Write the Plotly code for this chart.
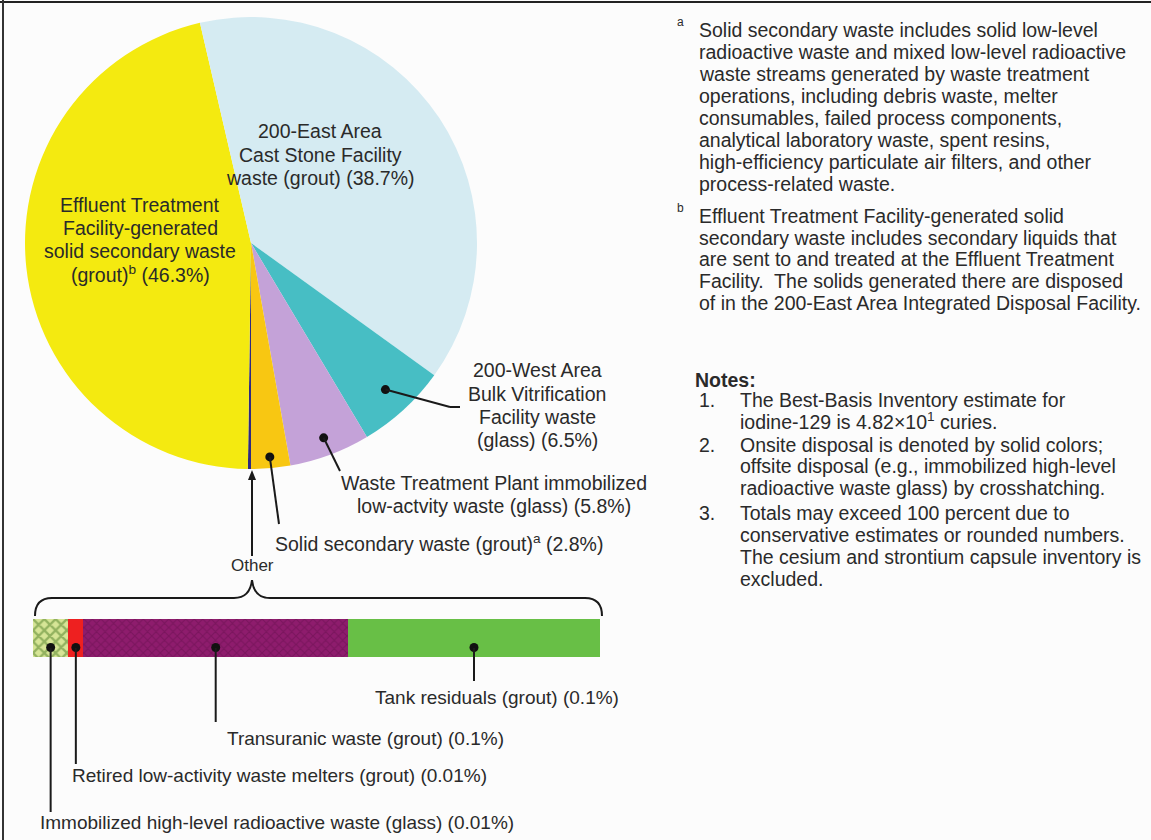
import math
import plotly.graph_objects as go

W, H = 1151, 840

# ---------------- data ----------------
pie_labels = ["Other",
              "Effluent Treatment Facility-generated solid secondary waste (grout)",
              "200-East Area Cast Stone Facility waste (grout)",
              "200-West Area Bulk Vitrification Facility waste (glass)",
              "Waste Treatment Plant immobilized low-activity waste (glass)",
              "Solid secondary waste (grout)"]
pie_values = [0.22, 46.3, 38.7, 6.5, 5.8, 2.8]
pie_colors = ["#2E2A80", "#F4EA10", "#D5EBF2", "#47BEC4", "#C4A2D8", "#F8C712"]

other_labels = ["Immobilized high-level radioactive waste (glass) (0.01%)",
                "Retired low-activity waste melters (grout) (0.01%)",
                "Transuranic waste (grout) (0.1%)",
                "Tank residuals (grout) (0.1%)"]
other_values = [0.014, 0.006, 0.105, 0.1]   # bar widths

FONT = "Liberation Sans, Arial, sans-serif"
TXT = "#2A2A2A"


def px(x):
    return x / W


def py(y):
    return 1 - y / H


fig = go.Figure()

# ---------------- pie ----------------
PCX, PCY, PR = 251, 243, 226
fig.add_trace(go.Pie(
    labels=pie_labels, values=pie_values, sort=False, direction="clockwise",
    rotation=180, textinfo="none", hoverinfo="label+percent",
    marker=dict(colors=pie_colors, line=dict(width=0)),
    domain=dict(x=[px(PCX - PR), px(PCX + PR)], y=[py(PCY + PR), py(PCY - PR)]),
    showlegend=False))

# ---------------- "Other" bar ----------------
BX0, BX1, BY0, BY1 = 33, 600, 619, 657
bar_fill = [
    dict(color="#D6E596", pattern=dict(shape="x", fgcolor="#4E7E28", bgcolor="#D6E596", size=8, solidity=0.5)),
    dict(color="#EE2020"),
    dict(color="#8C1B6B", pattern=dict(shape="x", fgcolor="#66104E", bgcolor="#8E1C6D", size=6, solidity=0.35)),
    dict(color="#68BF46"),
]
for lab, val, mk in zip(other_labels, other_values, bar_fill):
    fig.add_trace(go.Bar(x=[val], y=[0], orientation="h", width=1, name=lab,
                         marker=dict(line=dict(width=0), **mk),
                         showlegend=False, xaxis="x", yaxis="y"))

tot = sum(other_values)
cum = 0
centers = []
for v in other_values:
    centers.append(cum + v / 2)
    cum += v
fig.add_trace(go.Scatter(x=centers, y=[-0.25] * 4, mode="markers",
                         marker=dict(color="#111111", size=9), showlegend=False,
                         hoverinfo="skip", xaxis="x", yaxis="y"))

shapes = []
annotations = []


def line(x0, y0, x1, y1, color="#1A1A1A", width=2):
    shapes.append(dict(type="line", xref="paper", yref="paper",
                       x0=px(x0), y0=py(y0), x1=px(x1), y1=py(y1),
                       line=dict(color=color, width=width), layer="above"))


def text(x, y, s, anchor="center", size=19.5, bold=False):
    if bold:
        s = "<b>" + s + "</b>"
    annotations.append(dict(x=px(x), y=py(y), xref="paper", yref="paper", text=s,
                            showarrow=False, xanchor=anchor, yanchor="middle",
                            font=dict(family=FONT, size=size, color=TXT)))


# pie callout dots computed from slice mid-angles
ptot = sum(pie_values)
starts = []
c = 0
for v in pie_values:
    starts.append(c)
    c += v


def pie_point(i, frac):
    mid = starts[i] + pie_values[i] / 2
    a = math.radians(180 + 360 * mid / ptot)
    return PCX + frac * PR * math.sin(a), PCY - frac * PR * math.cos(a)


def dot(x, y, r=4.5):
    shapes.append(dict(type="circle", xref="paper", yref="paper",
                       x0=px(x - r), x1=px(x + r), y0=py(y + r), y1=py(y - r),
                       fillcolor="#111111", line=dict(width=0), layer="above"))


def P(x, y):
    return f"{px(x):.5f},{py(y):.5f}"


tx, ty = pie_point(3, 0.88)
dot(tx, ty)
line(tx, ty, 450, 407)
line(450, 407, 460, 407)
lx, ly = pie_point(4, 0.92)
dot(lx, ly)
line(lx, ly, 340, 471)
ox, oy = pie_point(5, 0.95)
dot(ox, oy)
line(ox, oy, 279, 524)

# "Other" pointer: line with a small arrowhead at the pie edge
line(252, 478, 252, 556)
shapes.append(dict(type="path", xref="paper", yref="paper",
                   path=f"M {P(252, 470)} L {P(248, 480)} L {P(256, 480)} Z",
                   fillcolor="#1A1A1A", line=dict(width=0), layer="above"))

# bar leader lines
bar_label_y = [812, 764, 722, 681]
for cx, ly_end in zip(centers, bar_label_y):
    xp = BX0 + (BX1 - BX0) * cx / tot
    line(xp, 648, xp, ly_end)

# brace over the bar
brace = (f"M {P(35, 616)} Q {P(35, 598)} {P(52, 598)} L {P(234, 598)} "
         f"Q {P(250, 598)} {P(252, 580)} Q {P(254, 598)} {P(270, 598)} "
         f"L {P(585, 598)} Q {P(602, 598)} {P(602, 616)}")
shapes.append(dict(type="path", xref="paper", yref="paper", path=brace,
                   line=dict(color="#1A1A1A", width=2), layer="above"))

# frame (top and left edges)
line(0, 2, W, 2, color="#222222", width=2)
line(3, 0, 3, H, color="#333333", width=2)

# ---------------- labels ----------------
for y, s in zip([131, 155, 178], ["200-East Area", "Cast Stone Facility", "waste (grout) (38.7%)"]):
    text(320, y, s)
for y, s in zip([205, 228, 251, 274], ["Effluent Treatment", "Facility-generated",
                                       "solid secondary waste", "(grout)<sup>b</sup> (46.3%)"]):
    text(140, y, s)
for y, s in zip([370, 394, 417, 440], ["200-West Area", "Bulk Vitrification",
                                       "Facility waste", "(glass) (6.5%)"]):
    text(537, y, s)
text(494, 483, "Waste Treatment Plant immobilized")
text(494, 506, "low-actvity waste (glass) (5.8%)")
text(273, 543, "Solid secondary waste (grout)<sup>a</sup> (2.8%)", anchor="left")
text(252, 565, "Other", size=17)

text(497, 697, other_labels[3], size=19)
text(365, 738, other_labels[2], size=19)
text(70, 775, other_labels[1], anchor="left", size=19)
text(38, 822, other_labels[0], anchor="left", size=19)

# footnotes
text(675, 22, "a", anchor="left", size=12)
fa = ["Solid secondary waste includes solid low-level",
      "radioactive waste and mixed low-level radioactive",
      "waste streams generated by waste treatment",
      "operations, including debris waste, melter",
      "consumables, failed process components,",
      "analytical laboratory waste, spent resins,",
      "high-efficiency particulate air filters, and other",
      "process-related waste."]
for y, s in zip([30, 52, 74, 96, 118, 140, 162, 184], fa):
    text(697, y, s, anchor="left")
text(675, 208, "b", anchor="left", size=12)
fb = ["Effluent Treatment Facility-generated solid",
      "secondary waste includes secondary liquids that",
      "are sent to and treated at the Effluent Treatment",
      "Facility.  The solids generated there are disposed",
      "of in the 200-East Area Integrated Disposal Facility."]
for y, s in zip([216, 238, 259, 281, 303], fb):
    text(697, y, s, anchor="left")

text(693, 380, "Notes:", anchor="left", bold=True)
notes = [
    ("1.", ["The Best-Basis Inventory estimate for",
            "iodine-129 is 4.82×10<sup>1</sup> curies."], [400, 421]),
    ("2.", ["Onsite disposal is denoted by solid colors;",
            "offsite disposal (e.g., immobilized high-level",
            "radioactive waste glass) by crosshatching."], [445, 466, 488]),
    ("3.", ["Totals may exceed 100 percent due to",
            "conservative estimates or rounded numbers.",
            "The cesium and strontium capsule inventory is",
            "excluded."], [513, 535, 557, 579]),
]
for num, lines, ys in notes:
    text(697, ys[0], num, anchor="left")
    for y, s in zip(ys, lines):
        text(738, y, s, anchor="left")

fig.update_layout(
    width=W, height=H, margin=dict(l=0, r=0, t=0, b=0),
    paper_bgcolor="#FCFCFC", plot_bgcolor="rgba(0,0,0,0)",
    barmode="stack", bargap=0,
    xaxis=dict(domain=[px(BX0), px(BX1)], range=[0, tot], visible=False, fixedrange=True),
    yaxis=dict(domain=[py(BY1), py(BY0)], range=[-0.5, 0.5], visible=False, fixedrange=True),
    shapes=shapes, annotations=annotations, font=dict(family=FONT, color=TXT),
)

fig.write_html("out.html", config={"displayModeBar": False},
               post_script="document.body.style.margin='0';")
